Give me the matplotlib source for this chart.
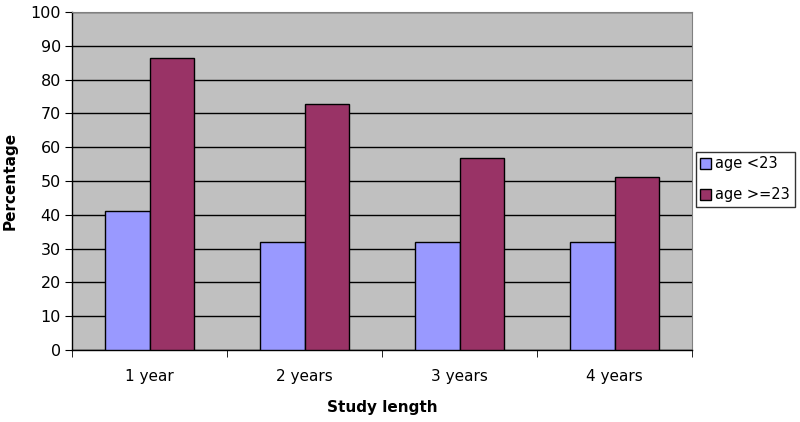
import numpy as np
import matplotlib.pyplot as plt
from matplotlib.ticker import FixedLocator

# data
categories = ['1 year', '2 years', '3 years', '4 years']
under_23 = [41, 32, 32, 32]
over_23 = [86.3, 72.8, 56.7, 51.2]
series_names = ['age <23', 'age >=23']

fig = plt.figure(figsize=(8, 4.22), dpi=100)
ax = fig.add_axes([0.09, 0.1706, 0.775, 0.801])

x = np.arange(len(categories))
w = 1 / 3.5
ax.bar(x - w / 2, under_23, w, color='#9999FF', edgecolor='black', linewidth=1, label=series_names[0], zorder=3)
ax.bar(x + w / 2, over_23, w, color='#993366', edgecolor='black', linewidth=1, label=series_names[1], zorder=3)

ax.set_facecolor('#C0C0C0')
ax.set_xlim(-0.5, len(categories) - 0.5)
ax.set_ylim(0, 100)
ax.set_yticks(range(0, 101, 10))
ax.yaxis.grid(True, color='black', linewidth=1, zorder=1)
ax.set_axisbelow(True)

ax.set_xticks(x)
ax.set_xticklabels(categories)
ax.xaxis.set_minor_locator(FixedLocator(np.arange(-0.5, len(categories), 1)))
ax.tick_params(axis='x', which='major', length=0, pad=14, labelsize=11)
ax.tick_params(axis='x', which='minor', length=5, direction='out')
ax.tick_params(axis='y', length=5, direction='out', labelsize=11.5, pad=3)

for s in ['top', 'right']:
    ax.spines[s].set_color('#808080')
ax.spines['left'].set_linewidth(1)
ax.spines['bottom'].set_linewidth(1)

ax.set_xlabel('Study length', fontweight='bold', fontsize=11, labelpad=11)
ax.set_ylabel('Percentage', fontweight='bold', fontsize=11, labelpad=9)

leg = ax.legend(loc='center left', bbox_to_anchor=(1.006, 0.505), frameon=True, fancybox=False,
                edgecolor='black', fontsize=10.5, handlelength=0.75, handleheight=0.75,
                handletextpad=0.3, borderpad=0.3, labelspacing=1.1, borderaxespad=0)
leg.get_frame().set_linewidth(1)

fig.savefig('out.png', dpi=100)
